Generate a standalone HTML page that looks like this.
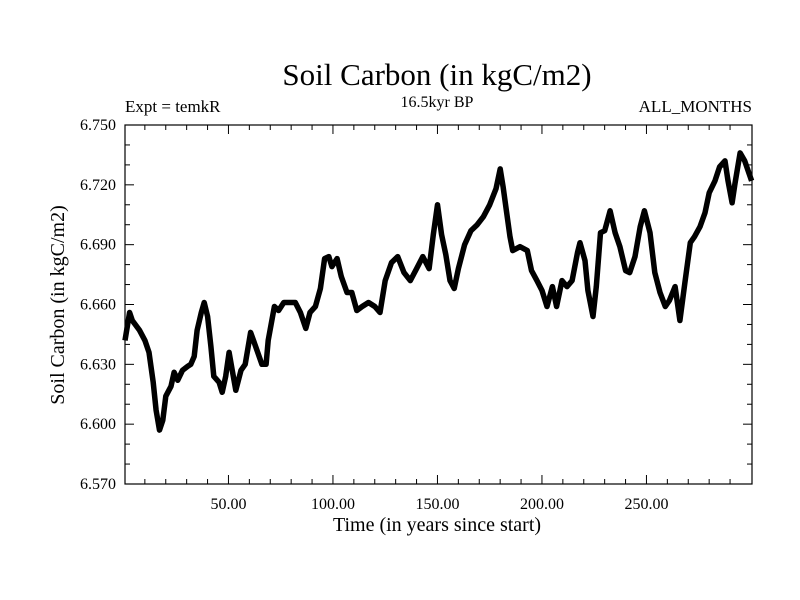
<!DOCTYPE html>
<html><head><meta charset="utf-8"><style>
body{margin:0;background:#fff}
svg{display:block;font-family:"Liberation Serif",serif}
</style></head><body>
<svg id="chart" width="800" height="600">
<rect width="800" height="600" fill="#fff"/>
<text x="437" y="85" font-size="31" text-anchor="middle">Soil Carbon (in kgC/m2)</text>
<text x="125" y="112" font-size="17">Expt = temkR</text>
<text x="437" y="107" font-size="16" text-anchor="middle">16.5kyr BP</text>
<text x="752" y="112" font-size="17" text-anchor="end">ALL_MONTHS</text>
<g id="axes"></g>
<path id="series" fill="none" stroke="#000" stroke-width="5.5" stroke-linejoin="round"/>
<rect x="125" y="125" width="627" height="359" fill="none" stroke="#000" stroke-width="1.2"/>
<text x="437" y="531" font-size="20" text-anchor="middle">Time (in years since start)</text>
<text transform="translate(64,305) rotate(-90)" font-size="20" text-anchor="middle">Soil Carbon (in kgC/m2)</text>
</svg>
<script>
const years=[0.5,2.7,4,7.5,10,12,14,15.4,17,18.6,20,22.5,24,25.7,28,30.5,32,33.6,35,37,38.4,40,41.6,43,45.5,47,48.7,50.3,52,53.5,56,58,60.6,62,64,66,68,69,72,74,76.5,79,82,84.4,87,89,91.6,94,96,98,99.5,102,104,106.7,109,111.4,114,117,120,122.5,125,128,131,134,137,140,143,146,148,150,152,154,156,158,160,163,166,169,172,175,178,180,181.4,183,184.7,186,189.5,193,195,197.6,200,202.4,205,207,209.6,212,214.4,217,218.2,220.6,222,224.4,226,228,230,232.6,235,237.3,240,242,244.5,247,249,251.7,254,256.5,259,261,263.7,266,268.4,271,273,275.6,278,280,282.8,285,287.6,289,291,292.4,294.8,297,300.3];
const carbon=[6.642,6.656,6.652,6.647,6.642,6.636,6.621,6.607,6.597,6.602,6.614,6.619,6.626,6.622,6.627,6.629,6.630,6.634,6.647,6.656,6.661,6.654,6.639,6.624,6.621,6.616,6.624,6.636,6.626,6.617,6.627,6.630,6.646,6.642,6.636,6.630,6.630,6.642,6.659,6.657,6.661,6.661,6.661,6.656,6.648,6.656,6.659,6.668,6.683,6.684,6.679,6.683,6.674,6.666,6.666,6.657,6.659,6.661,6.659,6.656,6.672,6.681,6.684,6.676,6.672,6.678,6.684,6.678,6.695,6.710,6.695,6.685,6.672,6.668,6.678,6.690,6.697,6.700,6.704,6.710,6.718,6.728,6.719,6.707,6.694,6.687,6.689,6.687,6.677,6.672,6.667,6.659,6.669,6.659,6.672,6.669,6.672,6.686,6.691,6.682,6.667,6.654,6.669,6.696,6.697,6.707,6.696,6.689,6.677,6.676,6.684,6.699,6.707,6.696,6.676,6.666,6.659,6.662,6.669,6.652,6.671,6.691,6.694,6.699,6.706,6.716,6.722,6.729,6.732,6.722,6.711,6.721,6.736,6.732,6.722];
const xTickValues=[50,100,150,200,250];
const xTickLabels=["50.00","100.00","150.00","200.00","250.00"];
const yTickValues=[6.57,6.6,6.63,6.66,6.69,6.72,6.75];
const yTickLabels=["6.570","6.600","6.630","6.660","6.690","6.720","6.750"];
const X0=125,X1=752,Y0=484,Y1=125,xMin=0.5,xMax=300.5,yMin=6.57,yMax=6.75;
const sx=v=>X0+(v-xMin)/(xMax-xMin)*(X1-X0);
const sy=v=>Y0-(v-yMin)/(yMax-yMin)*(Y0-Y1);
const NS="http://www.w3.org/2000/svg";
const axes=document.getElementById('axes');
function line(x1,y1,x2,y2,name){const l=document.createElementNS(NS,'line');
l.setAttribute('x1',x1);l.setAttribute('y1',y1);l.setAttribute('x2',x2);l.setAttribute('y2',y2);
l.setAttribute('stroke','#000');l.setAttribute('stroke-width','1');


axes.appendChild(l);}
function text(x,y,s,anchor,name){const t=document.createElementNS(NS,'text');
t.setAttribute('x',x);t.setAttribute('y',y);t.setAttribute('font-size','16');t.setAttribute('text-anchor',anchor);t.textContent=s;


axes.appendChild(t);}
for(let v=10;v<300;v+=10){const x=sx(v);const major=v%50===0;const L=major?9:5;
line(x,Y0,x,Y0-L,'x-tick');line(x,Y1,x,Y1+L,'x-tick-top');}
xTickValues.forEach((v,i)=>text(sx(v),509,xTickLabels[i],'middle','x-tick-label'));
for(let k=0;k<=18;k++){const v=yMin+k*0.01;const y=sy(v);const major=k%3===0;const L=major?9:5;
line(X0,y,X0+L,y,'y-tick');line(X1,y,X1-L,y,'y-tick-right');}
yTickValues.forEach((v,i)=>text(116,sy(v)+5,yTickLabels[i],'end','y-tick-label'));
document.getElementById('series').setAttribute('d',years.map((v,i)=>(i?'L':'M')+sx(v).toFixed(1)+','+sy(carbon[i]).toFixed(1)).join(''));
</script>
</body></html>
